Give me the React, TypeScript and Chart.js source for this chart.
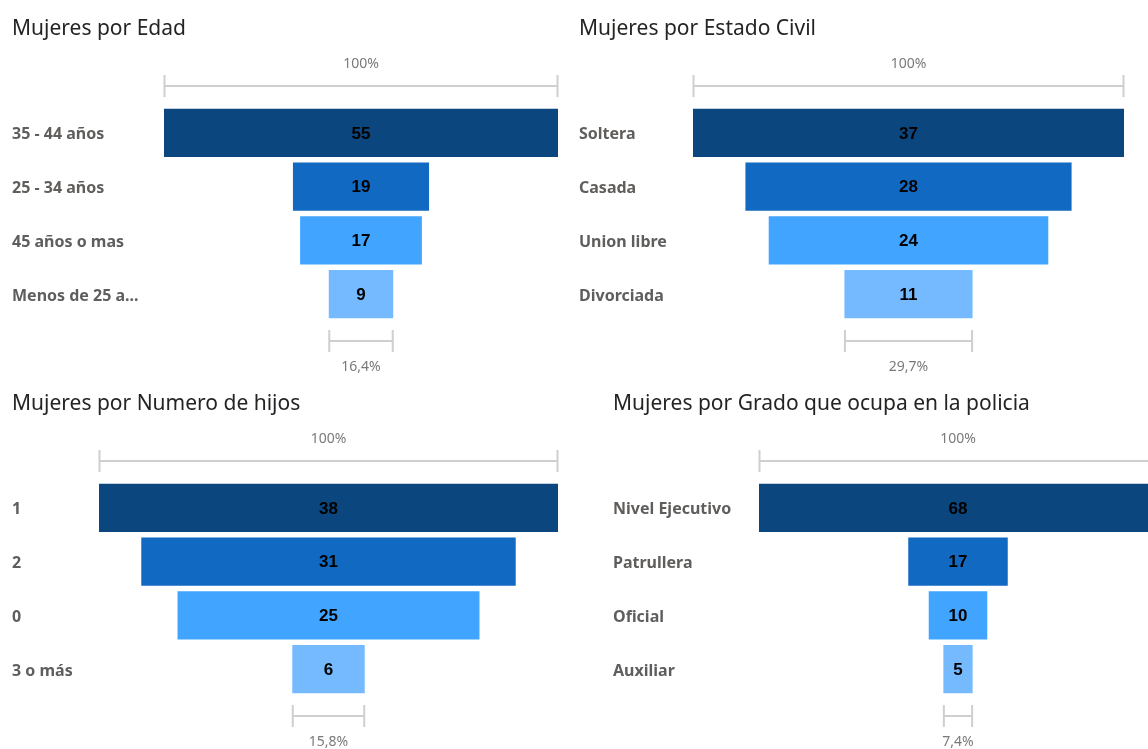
import React, { useEffect, useRef } from "react";
import { Chart, registerables } from "chart.js";

Chart.register(...registerables);

const ageTitle = "Mujeres por Edad";
const ageCats = ["35 - 44 años", "25 - 34 años", "45 años o mas", "Menos de 25 a..."];
const ageVals = [55, 19, 17, 9];

const civilTitle = "Mujeres por Estado Civil";
const civilCats = ["Soltera", "Casada", "Union libre", "Divorciada"];
const civilVals = [37, 28, 24, 11];

const kidsTitle = "Mujeres por Numero de hijos";
const kidsCats = ["1", "2", "0", "3 o más"];
const kidsVals = [38, 31, 25, 6];

const rankTitle = "Mujeres por Grado que ocupa en la policia";
const rankCats = ["Nivel Ejecutivo", "Patrullera", "Oficial", "Auxiliar"];
const rankVals = [68, 17, 10, 5];

const barColors = ["#0B467E", "#1169C1", "#41A5FF", "#75BAFF"];

const UI_FONT = "'Noto Sans', Roboto, sans-serif";
const VALUE_FONT = "'Liberation Sans', Arial, sans-serif";

type Box = {
  left: number;
  top: number;
  width: number;
  height: number;
  labelX: number;
  titleY: number;
  plotLeft: number;
  plotRight: number;
  plotTop: number;
  plotBottom: number;
};

const funnelDecor = {
  id: "funnelDecor",
  afterDraw(chart: any) {
    const ctx = chart.ctx;
    const meta = chart.getDatasetMeta(0);
    const vals: number[] = chart.data.datasets[0].rawVals;
    const area = chart.chartArea;
    if (!meta.data.length) return;

    const drawBracket = (x1: number, x2: number, y: number) => {
      ctx.save();
      ctx.strokeStyle = "#CFCFCF";
      ctx.lineWidth = 2;
      ctx.beginPath();
      ctx.moveTo(x1, y);
      ctx.lineTo(x2, y);
      ctx.moveTo(x1 + 0.5, y - 11);
      ctx.lineTo(x1 + 0.5, y + 11);
      ctx.moveTo(x2 - 0.5, y - 11);
      ctx.lineTo(x2 - 0.5, y + 11);
      ctx.stroke();
      ctx.restore();
    };
    const drawText = (t: string, x: number, y: number) => {
      ctx.save();
      ctx.fillStyle = "#7A7A7A";
      ctx.font = `14px ${UI_FONT}`;
      ctx.textAlign = "center";
      ctx.textBaseline = "middle";
      ctx.fillText(t, x, y);
      ctx.restore();
    };

    const first = meta.data[0];
    const last = meta.data[meta.data.length - 1];
    const fl = Math.min(first.x, first.base), fr = Math.max(first.x, first.base);
    const ll = Math.min(last.x, last.base), lr = Math.max(last.x, last.base);

    drawBracket(fl, fr, area.top - 20);
    drawText("100%", (fl + fr) / 2, area.top - 42);
    drawBracket(ll, lr, area.bottom + 20);
    const pct = ((vals[vals.length - 1] / vals[0]) * 100).toFixed(1).replace(".", ",") + "%";
    drawText(pct, (ll + lr) / 2, area.bottom + 46);

    ctx.save();
    ctx.fillStyle = "#000000";
    ctx.font = `bold 17px ${VALUE_FONT}`;
    ctx.textAlign = "center";
    ctx.textBaseline = "middle";
    meta.data.forEach((el: any, i: number) => {
      ctx.fillText(String(vals[i]), (el.x + el.base) / 2, el.y + 1);
    });
    ctx.restore();
  },
};

function FunnelPanel({ title, cats, vals, box }: { title: string; cats: string[]; vals: number[]; box: Box }) {
  const ref = useRef<HTMLCanvasElement>(null);
  useEffect(() => {
    if (!ref.current) return;
    const max = Math.max(...vals);
    const titleLH = 25;
    const titlePadTop = box.titleY - box.top - titleLH / 2;
    const titlePadBottom = box.plotTop - box.top - titlePadTop - titleLH;
    const chart = new Chart(ref.current, {
      type: "bar",
      data: {
        labels: cats,
        datasets: [
          {
            data: vals.map((v) => [-v / 2, v / 2]),
            rawVals: vals,
            backgroundColor: barColors,
            borderWidth: 0,
            categoryPercentage: 1,
            barPercentage: 0.894,
          } as any,
        ],
      },
      options: {
        indexAxis: "y",
        responsive: false,
        animation: false,
        events: [],
        layout: {
          padding: {
            left: box.labelX - box.left,
            right: box.left + box.width - box.plotRight,
            top: 0,
            bottom: box.top + box.height - box.plotBottom,
          },
        },
        plugins: {
          legend: { display: false },
          tooltip: { enabled: false },
          title: {
            display: true,
            text: title,
            align: "start",
            color: "#252423",
            font: { family: UI_FONT, size: 21, weight: "normal", lineHeight: titleLH / 21 },
            padding: { top: titlePadTop, bottom: titlePadBottom },
          },
        },
        scales: {
          x: { display: false, min: -max / 2, max: max / 2 },
          y: {
            grid: { display: false },
            border: { display: false },
            ticks: {
              crossAlign: "far",
              padding: 0,
              labelOffset: 2,
              color: "#605E5C",
              font: { family: UI_FONT, size: 16, weight: "bold" },
            },
            afterFit: (scale: any) => {
              scale.width = box.plotLeft - box.labelX;
            },
          },
        },
      } as any,
      plugins: [funnelDecor],
    });
    return () => chart.destroy();
  }, []);
  return (
    <canvas
      ref={ref}
      width={box.width}
      height={box.height}
      style={{ position: "absolute", left: box.left, top: box.top, width: box.width, height: box.height }}
    />
  );
}

const box1: Box = { left: 0, top: 0, width: 570, height: 375, labelX: 12, titleY: 29, plotLeft: 164, plotRight: 558, plotTop: 106, plotBottom: 321 };
const box2: Box = { left: 567, top: 0, width: 581, height: 375, labelX: 579, titleY: 29, plotLeft: 693, plotRight: 1124, plotTop: 106, plotBottom: 321 };
const box3: Box = { left: 0, top: 375, width: 570, height: 374, labelX: 12, titleY: 404, plotLeft: 99, plotRight: 558, plotTop: 481, plotBottom: 696 };
const box4: Box = { left: 601, top: 375, width: 580, height: 374, labelX: 613, titleY: 404, plotLeft: 759, plotRight: 1157, plotTop: 481, plotBottom: 696 };

export default function App() {
  return (
    <div style={{ position: "fixed", left: 0, top: 0, width: 1148, height: 749, overflow: "hidden", background: "#ffffff" }}>
      <FunnelPanel title={ageTitle} cats={ageCats} vals={ageVals} box={box1} />
      <FunnelPanel title={civilTitle} cats={civilCats} vals={civilVals} box={box2} />
      <FunnelPanel title={kidsTitle} cats={kidsCats} vals={kidsVals} box={box3} />
      <FunnelPanel title={rankTitle} cats={rankCats} vals={rankVals} box={box4} />
    </div>
  );
}
